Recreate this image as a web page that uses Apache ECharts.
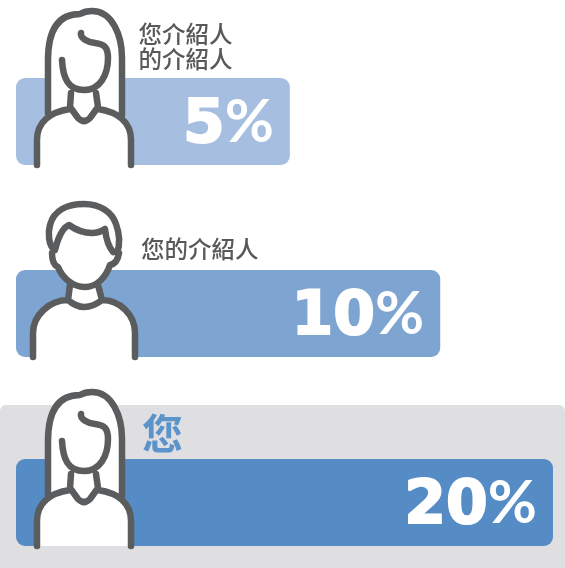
<!DOCTYPE html>
<html>
<head>
<meta charset="utf-8">
<script src="https://cdn.jsdelivr.net/npm/echarts@6/dist/echarts.min.js"></script>
<style>
	html, body { margin: 0; padding: 0; background: #fff; }
	#main { width: 565px; height: 568px; }
</style>
</head>
<body>
<div id="main"></div>
<script>
	var categories = ['您介紹人\n的介紹人', '您的介紹人', '您'];
	var shares = [5, 10, 20];
	// drawn bar length, % of the longest bar (the picture is not proportional to the share)
	var barLengths = [51, 79, 100];
	var barColors = ['#a6bfe0', '#7ea4d2', '#568cc6'];
	var rowTops = [78, 270, 459];

	var ink = '#5a5c5e';

	var womanFill = 'M48 115 V60 C48 30 58 13 80 13 C86 11 90 11 92 11 C112 11 122 35 122 58 V115 L131 140 V165 H37 V140 Z';
	var womanLine = 'M48 113 V60 C48 30 58 14 80 14 C85 11 89 11 92 11 C112 11 122 35 122 58 V115 ' +
		'M62 60 C63 78 68 90 84 90 C100 90 108 75 108 58 C108 47 104 44 95 43 C87 42 80 38 81 33 ' +
		'M71 93 L70 107 L78 118 Q84 124 90 118 L98 107 L96 93 ' +
		'M37 165 V140 C37 122 50 112 70 109 M131 165 V140 C131 122 118 112 98 109';
	var manFill = 'M52 253 C46 235 50 203 84 203 C112 203 124 230 118 255 L110 265 L100 285 L102 300 C120 302 135 315 135 333 V357 H33 V333 C33 315 50 300 68 300 L70 285 L58 267 Z';
	var manLine = 'M55 250 C48 246 48 232 50 225 C54 210 68 204 84 204 C100 204 112 212 116 224 C120 235 120 245 117 253 ' +
		'M55 250 C58 238 62 228 69 225 C76 230 85 233 92 233 C97 233 102 231 105 229 C106 238 108 246 113 252 ' +
		'M52 253 C52 260 53 265 58 267 C62 277 72 287 85 287 C97 287 106 277 110 265 C115 264 118 260 119 253 ' +
		'M70 285 L68 300 Q84 314 102 300 L98 285 ' +
		'M33 357 V333 C33 315 50 300 68 300 M135 357 V333 C135 315 120 300 102 300';

	// the graphic component has no plain 'path' type, so register the icon outlines as shapes
	echarts.graphic.registerShape('womanFill', echarts.graphic.extendPath(womanFill, {}));
	echarts.graphic.registerShape('womanLine', echarts.graphic.extendPath(womanLine, {}));
	echarts.graphic.registerShape('manFill', echarts.graphic.extendPath(manFill, {}));
	echarts.graphic.registerShape('manLine', echarts.graphic.extendPath(manLine, {}));

	function icon(type, y) {
		return {
			type: type,
			x: 0,
			y: y,
			z: 10,
			style: { fill: 'none', stroke: ink, lineWidth: 6.5, lineCap: 'round', lineJoin: 'round' }
		};
	}
	function fillShape(type, y) {
		return {
			type: type,
			x: 0,
			y: y,
			z: 9,
			style: { fill: '#fff', stroke: 'none' }
		};
	}

	var grids = [], xAxes = [], yAxes = [], series = [];
	categories.forEach(function (name, i) {
		grids.push({ left: 16, top: rowTops[i], width: 537, height: 87 });
		xAxes.push({ type: 'value', gridIndex: i, min: 0, max: 100, show: false });
		yAxes.push({ type: 'category', gridIndex: i, data: [name], show: false });
		series.push({
			type: 'bar',
			xAxisIndex: i,
			yAxisIndex: i,
			barWidth: 87,
			silent: true,
			data: [barLengths[i]],
			itemStyle: { color: barColors[i], borderRadius: 9 },
			label: {
				show: true,
				position: 'insideRight',
				distance: 16,
				offset: [0, 5],
				formatter: function () { return '{n|' + shares[i] + '}{p|%}'; },
				rich: {
					n: { color: '#fff', fontFamily: 'DejaVu Sans', fontWeight: 700, fontSize: 60, textBorderColor: '#fff', textBorderWidth: 2 },
					p: { color: '#fff', fontFamily: 'Lato', fontWeight: 700, fontSize: 60, padding: [0, 0, 8, 0] }
				}
			}
		});
	});

	var option = {
		backgroundColor: '#fff',
		animation: false,
		grid: grids,
		xAxis: xAxes,
		yAxis: yAxes,
		series: series,
		graphic: [
			{ type: 'rect', z: -1, shape: { x: 0, y: 405, width: 565, height: 163, r: [6, 6, 0, 0] }, style: { fill: '#dfdfe1' } },
			fillShape('womanFill', 0), icon('womanLine', 0),
			fillShape('manFill', 0), icon('manLine', 0),
			fillShape('womanFill', 381), icon('womanLine', 381),
			{ type: 'text', z: 10, x: 138.5, y: 22, style: { text: categories[0], fill: '#58595b', font: '500 23.5px "Noto Sans CJK TC"', lineHeight: 25 } },
			{ type: 'text', z: 10, x: 141, y: 237, style: { text: categories[1], fill: '#58595b', font: '500 23.5px "Noto Sans CJK TC"' } },
			{ type: 'text', z: 10, x: 142, y: 413, style: { text: categories[2], fill: '#5b93cb', font: '700 41px "Noto Sans CJK TC"' } }
		]
	};

	var myChart = echarts.init(document.getElementById('main'), null, { renderer: 'canvas' });
	myChart.setOption(option);
</script>
</body>
</html>
